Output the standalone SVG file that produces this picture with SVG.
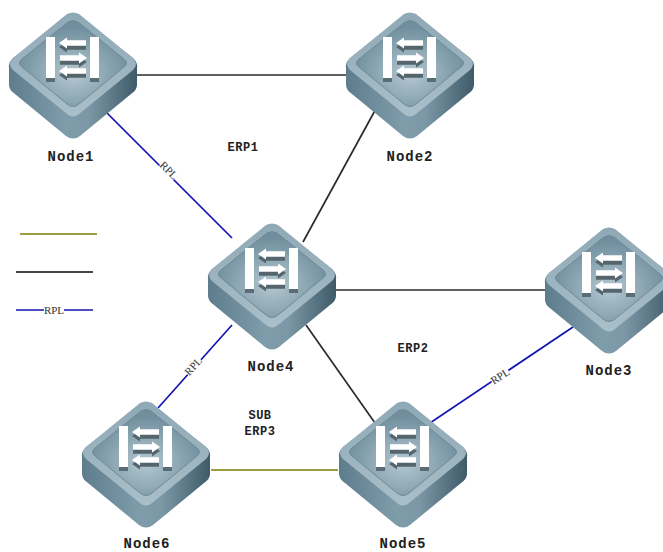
<svg xmlns="http://www.w3.org/2000/svg" width="663" height="552" viewBox="0 0 663 552">
<style>
.l{fill:none;stroke-width:1.7}
.k{stroke:#2b2b2b}
.b{stroke:#1414b0}
.y{stroke:#a09c40;stroke-width:2}
.n{font:bold 14px "Liberation Mono",monospace;letter-spacing:1px;fill:#222;text-anchor:middle}
.e{font:bold 12px "Liberation Mono",monospace;letter-spacing:.5px;fill:#222;text-anchor:middle}
.r{font:11px "Liberation Serif",serif;fill:#333;text-anchor:middle}
.bg{fill:#fff}
</style>
<defs>
<linearGradient id="side" x1="0" x2="1" y1="0" y2="0"><stop offset="0" stop-color="#5e7d8c"/><stop offset=".45" stop-color="#7f9cab"/><stop offset=".62" stop-color="#7c98a7"/><stop offset="1" stop-color="#3f5a68"/></linearGradient>
<linearGradient id="top" x1="0" x2="0" y1="0" y2="1"><stop offset="0" stop-color="#8ea8b5"/><stop offset="1" stop-color="#a9bfc9"/></linearGradient>
<radialGradient id="in" cx=".5" cy=".62" r=".55"><stop offset="0" stop-color="#b4c8d1"/><stop offset="1" stop-color="#6f8e9d"/></radialGradient>
<filter id="soft" x="-5%" y="-5%" width="110%" height="110%"><feGaussianBlur stdDeviation=".5"/></filter>
<path id="al" d="M-14 0L-6-5.500V-2.800H13V2.800H-6V5.500Z"/>
<g id="sw">
<path d="M-6 3Q0-2 6 3L60 45Q65 50 64 55L64 72Q64 77 58 81L7 123Q0 128-7 123L-58 81Q-64 77-64 72L-64 55Q-65 50-60 45Z" fill="url(#side)" filter="url(#soft)"/>
<path d="M-6 1Q0-2 6 1L60 45Q66 51 60 57L6 101Q0 106-6 101L-60 57Q-66 51-60 45Z" fill="url(#top)" filter="url(#soft)"/>
<path d="M-5 9Q0 6 5 9L51 46Q56 50 51 54L6 91Q0 96-6 91L-51 54Q-56 50-51 46Z" fill="url(#in)" stroke="#6d8998" stroke-width="1" filter="url(#soft)"/>
<rect x="-27" y="24" width="9" height="41" fill="#fff"/>
<rect x="-27" y="65" width="9" height="4" fill="#5a6c76"/>
<rect x="17" y="24" width="9" height="41" fill="#fff"/>
<rect x="17" y="65" width="9" height="4" fill="#5a6c76"/>
<use href="#al" x="0" y="34" fill="#55656d"/>
<use href="#al" x="0" y="30" fill="#fff"/>
<use href="#al" transform="translate(0 49) scale(-1 1)" fill="#55656d"/>
<use href="#al" transform="translate(0 45) scale(-1 1)" fill="#fff"/>
<use href="#al" x="0" y="62" fill="#55656d"/>
<use href="#al" x="0" y="58" fill="#fff"/>
</g>
</defs>
<rect width="663" height="552" fill="#fff"/>
<g id="connectors">
<path class="l k" d="M137 75H347"/>
<path class="l b" d="M107 113L232 238"/>
<path class="l k" d="M378 105L303 242"/>
<path class="l k" d="M336 290H545"/>
<path class="l k" d="M306 325L375 423"/>
<path class="l b" d="M232 325L158 408"/>
<path class="l b" d="M430 423L573 327"/>
<path class="l y" d="M211 470H338"/>
<path class="l y" d="M20 234H97"/>
<path class="l k" style="stroke:#444;stroke-width:2" d="M16 272H93"/>
<path class="l b" d="M16 310H93"/>
<rect class="bg" x="44" y="304" width="20" height="12"/>
<text class="r" x="54" y="314">RPL</text>
<g transform="translate(169 170) rotate(45)"><rect class="bg" x="-10" y="-5" width="20" height="10"/><text class="r" y="4">RPL</text></g>
<g transform="translate(193 366) rotate(-48)"><rect class="bg" x="-10" y="-5" width="20" height="10"/><text class="r" y="4">RPL</text></g>
<g transform="translate(500 376) rotate(-33)"><rect class="bg" x="-10" y="-5" width="20" height="10"/><text class="r" y="4">RPL</text></g>
</g>
<g id="node1"><use href="#sw" x="73" y="13"/><text class="n" x="71" y="161">Node1</text></g>
<g id="node2"><use href="#sw" x="410" y="13"/><text class="n" x="410" y="161">Node2</text></g>
<g id="node3"><use href="#sw" x="609" y="228"/><text class="n" x="609" y="375">Node3</text></g>
<g id="node4"><use href="#sw" x="272" y="224"/><text class="n" x="271" y="371">Node4</text></g>
<g id="node5"><use href="#sw" x="403" y="402"/><text class="n" x="403" y="548">Node5</text></g>
<g id="node6"><use href="#sw" x="146" y="402"/><text class="n" x="147" y="548">Node6</text></g>
<text class="e" x="243" y="151">ERP1</text>
<text class="e" x="413" y="352">ERP2</text>
<text class="e" x="260" y="419">SUB</text>
<text class="e" x="260" y="435">ERP3</text>
</svg>
